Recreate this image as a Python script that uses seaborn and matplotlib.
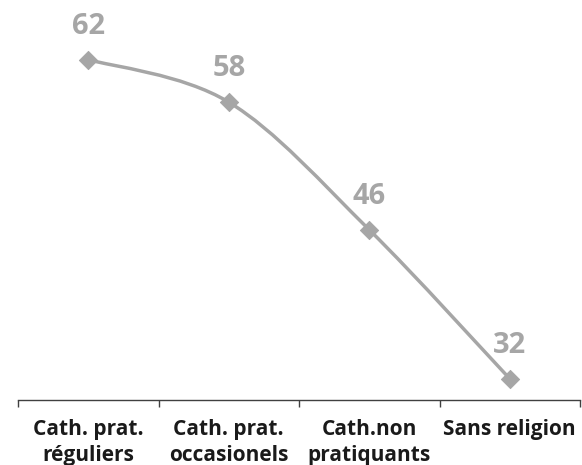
import numpy as np
import pandas as pd
import seaborn as sns
import matplotlib
matplotlib.use("Agg")
import matplotlib.pyplot as plt
from matplotlib.path import Path
from matplotlib.patches import PathPatch

categories = ["Cath. prat.\nréguliers", "Cath. prat.\noccasionels", "Cath.non\npratiquants", "Sans religion"]
values = [62, 58, 46, 32]

sns.set_theme(style="white")
plt.rcParams['font.family'] = ['Open Sans', 'DejaVu Sans']

line_color = "#A6A6A6"

fig = plt.figure(figsize=(5.82, 4.65), dpi=100)
ax = fig.add_axes([18/582, 1 - 400/465, 562/582, 400/465])

df = pd.DataFrame({"x": np.arange(len(categories)), "y": values})

# Smoothed line (Bezier through data points, Catmull-Rom style)
xs = df["x"].to_numpy(dtype=float)
ys = df["y"].to_numpy(dtype=float)
verts = [(xs[0], ys[0])]
codes = [Path.MOVETO]
n = len(xs)
for i in range(n - 1):
    p0 = (xs[i - 1], ys[i - 1]) if i > 0 else (xs[i], ys[i])
    p1 = (xs[i], ys[i])
    p2 = (xs[i + 1], ys[i + 1])
    p3 = (xs[i + 2], ys[i + 2]) if i + 2 < n else (xs[i + 1], ys[i + 1])
    t = 1 / 6
    c1 = (p1[0] + (p2[0] - p0[0]) * t, p1[1] + (p2[1] - p0[1]) * t)
    c2 = (p2[0] - (p3[0] - p1[0]) * t, p2[1] - (p3[1] - p1[1]) * t)
    verts += [c1, c2, p2]
    codes += [Path.CURVE4] * 3
ax.add_patch(PathPatch(Path(verts, codes), facecolor="none", edgecolor=line_color, lw=2.5, zorder=2))

sns.scatterplot(data=df, x="x", y="y", marker="D", s=85, color=line_color,
                edgecolor=line_color, ax=ax, zorder=3, legend=False)

for xi, yi in zip(xs, ys):
    ax.annotate(f"{int(yi)}", (xi, yi), xytext=(0, 18.7), textcoords="offset points",
                ha="center", va="baseline", fontsize=21, fontweight="bold", color=line_color)

ax.set_xlim(-0.5, 3.5)
ax.set_ylim(30, 67.6)
ax.set_xlabel("")
ax.set_ylabel("")
ax.set_yticks([])
ax.set_xticks(np.arange(-0.5, 4, 1))
ax.set_xticklabels([])
ax.set_xticks(np.arange(len(categories)), minor=True)
ax.set_xticklabels(categories, minor=True, fontsize=15, fontweight="bold", color="#1a1a1a",
                   linespacing=1.28)
ax.tick_params(axis="x", which="major", direction="out", length=5, width=1, color="#404040", bottom=True)
ax.tick_params(axis="x", which="minor", length=0, pad=14)
for s in ["top", "left", "right"]:
    ax.spines[s].set_visible(False)
ax.spines["bottom"].set_color("#404040")
ax.spines["bottom"].set_linewidth(1)

fig.savefig("out.png", dpi=100)
